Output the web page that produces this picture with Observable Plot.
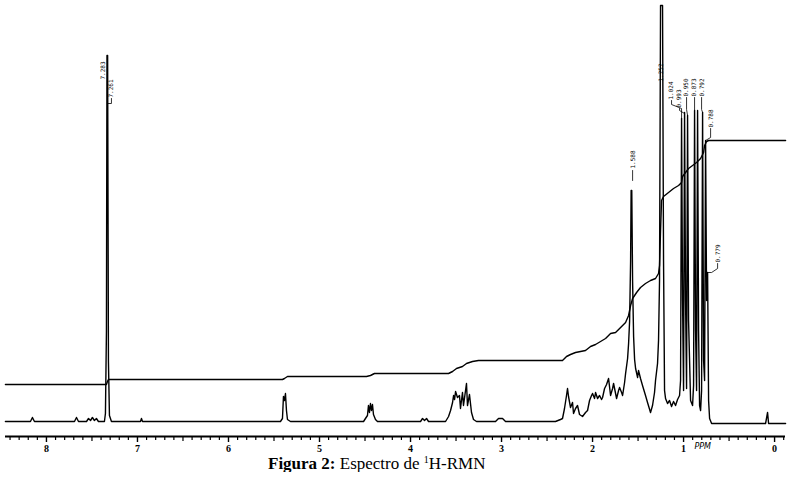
<!DOCTYPE html>
<html><head><meta charset="utf-8">
<script src="https://cdn.jsdelivr.net/npm/d3@7"></script>
<script src="https://cdn.jsdelivr.net/npm/@observablehq/plot@0.6"></script>
<style>
body{margin:0;background:#fff;}
#caption{font-family:"Liberation Serif","Times New Roman",serif;font-size:17px;line-height:16px;padding-left:268px;color:#000;white-space:nowrap;}
#caption sup{font-size:10px;line-height:0;vertical-align:6px;}
</style></head><body>
<div id="chart"></div>
<div id="caption"><b>Figura 2:</b> Espectro de <sup>1</sup>H-RMN</div>
<script>
// 1H-NMR trace: [ppm, intensity]
const spectrum = [
[8.451,0],[8.176,0],[8.154,4],[8.132,0],[7.692,0],[7.670,4],[7.648,0],
[7.560,0],[7.538,3],[7.516,1],[7.495,4],[7.473,1],[7.451,3],[7.429,0],
[7.363,0],[7.352,8],[7.341,90],[7.335,366],[7.328,366],[7.319,60],[7.308,6],[7.286,0],
[6.967,0],[6.956,3],[6.945,0],
[5.429,0],[5.407,3],[5.396,25],[5.385,21],[5.374,28],[5.363,11],[5.352,2],[5.319,0],
[4.516,0],[4.495,3],[4.473,6],[4.462,16],[4.451,9],[4.440,18],[4.429,11],[4.418,17],[4.407,7],[4.385,2],[4.363,0],
[3.890,0],[3.868,3],[3.846,1],[3.824,3],[3.802,0],
[3.615,0],[3.582,5],[3.560,11],[3.538,19],[3.527,26],[3.516,22],[3.505,30],[3.484,24],[3.462,26],[3.451,13],
[3.429,29],[3.418,16],[3.385,38],[3.374,16],[3.352,27],[3.330,9],[3.308,2],[3.275,0],
[3.066,0],[3.033,3],[2.989,3],[2.956,0],
[2.407,0],[2.352,2],[2.330,3],[2.308,13],[2.286,26],[2.275,33],[2.264,25],[2.242,14],[2.220,19],[2.209,8],
[2.187,13],[2.165,16],[2.143,7],[2.110,5],[2.077,9],[2.055,11],[2.033,21],[2.011,26],[2.000,28],[1.978,23],
[1.967,29],[1.945,23],[1.923,26],[1.901,22],[1.890,24],[1.868,33],[1.846,37],[1.824,43],[1.802,26],[1.780,33],
[1.769,38],[1.747,28],[1.736,23],[1.714,31],[1.703,34],[1.681,29],[1.670,26],[1.648,39],[1.637,48],[1.615,63],
[1.604,78],[1.593,100],[1.582,160],[1.576,231],[1.569,231],[1.560,140],[1.549,85],[1.538,62],[1.527,53],[1.505,44],[1.495,51],
[1.473,43],[1.451,36],[1.418,26],[1.396,19],[1.363,9],[1.341,16],[1.319,29],[1.308,41],[1.286,58],[1.275,81],
[1.264,141],[1.253,416],[1.242,416],[1.231,416],[1.220,161],[1.209,31],[1.198,23],[1.176,18],[1.154,21],[1.132,15],
[1.110,20],[1.088,16],[1.066,22],[1.044,26],[1.033,41],[1.022,303],[1.011,121],[1.000,31],[0.989,309],[0.978,121],
[0.967,33],[0.956,306],[0.945,101],[0.923,21],[0.901,16],[0.890,36],[0.879,311],[0.868,91],[0.857,31],[0.846,311],
[0.835,91],[0.824,16],[0.813,11],[0.802,31],[0.791,309],[0.780,61],[0.769,41],[0.758,281],[0.747,121],[0.736,149],
[0.725,21],[0.714,3],[0.692,-2],[0.099,-2],[0.077,9],[0.066,-2],[-0.121,-2]
];

// integral trace: [ppm, integral height]
const integral = [
[8.451,37],[7.341,37],[7.330,40],[7.319,42],[5.407,42],[5.385,43],[5.352,45],[4.484,45],[4.440,46],[4.396,48],
[3.582,48],[3.538,50],[3.495,53],[3.429,55],[3.385,58],[3.319,60],[3.253,61],[2.330,61],[2.286,65],[2.242,67],
[2.187,69],[2.077,71],[2.022,75],[1.967,77],[1.912,80],[1.857,83],[1.802,88],[1.747,89],[1.692,94],[1.637,99],
[1.604,106],[1.582,116],[1.560,123],[1.516,129],[1.473,134],[1.418,138],[1.363,141],[1.308,143],[1.275,148],[1.264,156],
[1.253,191],[1.242,221],[1.220,225],[1.165,229],[1.110,233],[1.055,236],[1.022,239],[1.011,245],[0.978,249],[0.945,253],
[0.901,256],[0.857,259],[0.813,263],[0.780,269],[0.769,276],[0.747,280],[0.725,281],[-0.121,281]
];

// peak labels: [text, ppm, height]
const peakLabels = [
["7.283",7.374,351],["7.261",7.286,333],["1.252",1.242,349],["1.024",1.132,331],["0.993",1.044,323],
["0.950",0.967,334],["0.873",0.879,334],["0.792",0.802,334],["0.788",0.703,303],["0.779",0.626,168],["1.588",1.560,262]
];

// leader lines of peak labels: [label, ppm, height]
const leaders = [
["7.261",7.286,323],["7.261",7.286,318],["7.261",7.330,318],
["1.024",1.132,321],["1.024",1.132,317],["1.024",1.022,313],["1.024",1.022,303],
["0.993",1.044,313],["0.993",1.044,311],["0.993",0.989,308],["0.993",0.989,303],
["0.950",0.967,324],["0.950",0.967,312],["0.950",0.956,306],
["0.873",0.879,324],["0.873",0.879,311],
["0.792",0.802,324],["0.792",0.802,312],["0.792",0.791,309],
["0.788",0.703,293],["0.788",0.703,284],["0.788",0.758,281],
["0.779",0.626,158],["0.779",0.626,153],["0.779",0.692,149],["0.779",0.736,149],
["1.588",1.560,251],["1.588",1.560,241]
];

const majorTicks = [8,7,6,5,4,3,2,1,0];
const halfTicks = [8.5,7.5,6.5,5.5,4.5,3.5,2.5,1.5,0.5];
const minorTicks = d3.range(-1, 85).map(i => i / 10);
const unitLabel = [{text: "PPM", ppm: 0.79}];

const spec = spectrum.map(([ppm, v]) => ({ppm, v}));
const integ = integral.map(([ppm, v]) => ({ppm, v}));
const labs = peakLabels.map(([text, ppm, v]) => ({text, ppm, v}));
const leads = leaders.map(([id, ppm, v]) => ({id, ppm, v}));

const chart = Plot.plot({
  width: 792, height: 456,
  marginLeft: 5, marginRight: 7, marginTop: 0, marginBottom: 20,
  x: {domain: [8.45, -0.12], label: null},
  y: {domain: [-15, 421], axis: null},
  style: {background: "white", color: "black", overflow: "visible"},
  marks: [
    Plot.ruleY([-15], {strokeWidth: 2}),
    Plot.axisX(minorTicks.filter(t => !Number.isInteger(t) && !halfTicks.includes(t)), {tickSize: 4, tickFormat: () => "", strokeWidth: 1.2}),
    Plot.axisX(halfTicks.filter(t => t < 8.45), {tickSize: 5, tickFormat: () => "", strokeWidth: 1.2}),
    Plot.axisX(majorTicks, {tickSize: 6, tickPadding: 2, strokeWidth: 1.4, fontSize: 10, fontWeight: "bold", fontFamily: "Liberation Serif, serif", tickFormat: d => String(d)}),
    Plot.text(unitLabel, {x: "ppm", text: "text", frameAnchor: "bottom", dy: 12, fontSize: 8, fontStyle: "italic", fontFamily: "DejaVu Sans, sans-serif"}),
    Plot.line(integ, {x: "ppm", y: "v", stroke: "black", strokeWidth: 1.4}),
    Plot.text(labs, {x: "ppm", y: "v", text: "text", rotate: -90, fontSize: 6, fontFamily: "DejaVu Sans Mono, monospace", fill: "black"}),
    Plot.line(spec, {x: "ppm", y: "v", stroke: "black", strokeWidth: 1.4}),
    Plot.line(leads, {x: "ppm", y: "v", z: "id", stroke: "black", strokeWidth: 0.8})
  ]
});
document.getElementById("chart").appendChild(chart);
</script>
</body></html>
